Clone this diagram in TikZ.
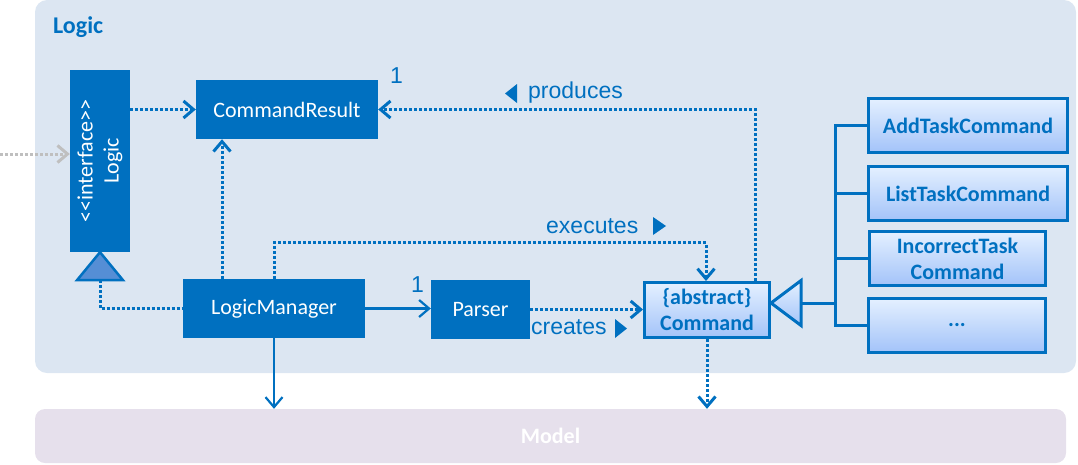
\documentclass[tikz,border=0pt]{standalone}
\usepackage{fontspec}
\newfontfamily\boxfont{Carlito}
\newfontfamily\labelfont{Liberation Sans}
\usetikzlibrary{arrows.meta,calc}
\definecolor{umlblue}{HTML}{0070C0}
\definecolor{pkgblue}{HTML}{DCE6F2}
\definecolor{pkgmauve}{HTML}{E6E0EC}
\definecolor{callergrey}{HTML}{BFBFBF}
\definecolor{trifill}{HTML}{558ED5}
\definecolor{gradtop}{HTML}{E4F0FF}
\definecolor{gradbot}{HTML}{A3C3F9}

\begin{document}
\begin{tikzpicture}[x=1pt, y=-1pt,
    solidbox/.style={fill=umlblue, text=white, inner sep=0pt, align=center, font=\boxfont\fontsize{22}{26}\selectfont},
    absbox/.style={draw=umlblue, line width=3pt, top color=gradtop, bottom color=gradbot, text=umlblue, inner sep=0pt, align=center, font=\boxfont\bfseries\fontsize{22}{26}\selectfont},
    lbl/.style={text=umlblue, inner sep=0pt, anchor=base west, font=\labelfont\fontsize{23}{27}\selectfont},
    dotline/.style={draw=umlblue, line width=3pt, dash pattern=on 3pt off 2pt},
    dotarrow/.style={dotline, -{Straight Barb[length=10pt, width=17pt]}},
    solidarrow/.style={draw=umlblue, line width=2.2pt, -{Straight Barb[length=10pt, width=17pt]}},
    genline/.style={draw=umlblue, line width=3pt},
    callerarrow/.style={draw=callergrey, line width=3pt, dash pattern=on 3pt off 2pt, -{Straight Barb[length=10pt, width=17pt]}}
]
    \useasboundingbox (0,0) rectangle (1078,464);

    % Logic package
    \fill[pkgblue, rounded corners=12pt] (35,0) rectangle (1076,373);
    \node[anchor=base west, inner sep=0pt, text=umlblue, font=\boxfont\bfseries\fontsize{24}{28}\selectfont] (pkgtitle) at (53,33) {Logic};

    % Classes
    \node[solidbox, minimum width=60, minimum height=182] (logic) at (100,161) {};
    \node[rotate=90, text=white, inner sep=0pt, align=center, font=\boxfont\fontsize{22}{26}\selectfont] (logiclbl) at (logic.center) {<<interface>>\\Logic};
    \node[solidbox, minimum width=182, minimum height=59] (cmdresult) at (287,109.5) {CommandResult};
    \node[solidbox, minimum width=182, minimum height=59] (logicmgr) at (274,308.5) {LogicManager};
    \node[solidbox, minimum width=99, minimum height=59] (parser) at (480.5,309.5) {Parser};
    \node[absbox, minimum width=125, minimum height=55] (command) at (707,310) {\{abstract\}\\Command};

    % Command subclasses
    \node[absbox, minimum width=199, minimum height=54] (addtask) at (968,125.5) {AddTaskCommand};
    \node[absbox, minimum width=199, minimum height=54] (listtask) at (968,193.5) {ListTaskCommand};
    \node[absbox, minimum width=176, minimum height=54] (incorrect) at (957.5,258.5) {IncorrectTask\\Command};
    \node[absbox, minimum width=177, minimum height=54] (etc) at (957,325.5) {...};

    % Model package
    \node[fill=pkgmauve, rounded corners=10pt, minimum width=1031, minimum height=54, text=white, font=\boxfont\bfseries\fontsize{22}{26}\selectfont] (model) at (550.5,436) {Model};

    % Caller of the interface
    \coordinate (caller) at (0,154);
    \draw[callerarrow] (caller) -- (caller -| logic.west);

    % Realization of Logic
    \coordinate (ifbase) at ([yshift=-28pt]logic.south);
    \draw[draw=umlblue, line width=2.5pt, fill=trifill] (logic.south) -- ([xshift=-23pt]ifbase) -- ([xshift=23pt]ifbase) -- cycle;
    \draw[dotline] (ifbase) |- (logicmgr.west);

    % Associations
    \draw[dotarrow] (logic.east |- cmdresult.west) -- (cmdresult.west);
    \coordinate (mgrup) at ([xshift=-52pt]logicmgr.north);
    \draw[dotarrow] (mgrup) -- (mgrup |- cmdresult.south);
    \draw[dotarrow] (logicmgr.north) -- ++(0,-36) -| ([xshift=-1pt]command.north);
    \coordinate (cmdup) at ([xshift=48pt]command.north);
    \draw[dotarrow] (cmdup) |- (cmdresult.east);
    \draw[solidarrow] (logicmgr.east) -- (logicmgr.east -| parser.west);
    \draw[dotarrow] (parser.east) -- (parser.east -| command.west);
    \draw[solidarrow] (logicmgr.south) -- (logicmgr.south |- model.north);
    \draw[dotarrow] (command.south) -- (command.south |- model.north);

    % Labels
    \node[lbl] (cmdresultmult) at (390,83) {1};
    \node[lbl] (parsermult) at (411,292) {1};
    \node[lbl] (produceslbl) at (528,98) {produces};
    \fill[umlblue] (517,84) -- (517,103) -- (505,93.5) -- cycle;
    \node[lbl] (executeslbl) at (546,233) {executes};
    \fill[umlblue] (653,217) -- (666,226) -- (653,235) -- cycle;
    \node[lbl] (createslbl) at (531,334) {creates};
    \fill[umlblue] (615,319) -- (627,328.5) -- (615,338) -- cycle;

    % Generalization
    \coordinate (genapex) at ([yshift=7pt]command.east);
    \coordinate (genbase) at ([xshift=30pt]genapex);
    \draw[genline, top color=gradtop, bottom color=gradbot] (genapex) -- ([yshift=22.5pt]genbase) -- ([yshift=-22.5pt]genbase) -- cycle;
    \coordinate (bus) at (835,303);
    \draw[genline] (genbase) -- (bus);
    \draw[genline] (addtask.west) -| (bus |- etc.west) -- (etc.west);
    \draw[genline] (listtask.west) -- (listtask.west -| bus);
    \draw[genline] (incorrect.west) -- (incorrect.west -| bus);
\end{tikzpicture}
\end{document}
